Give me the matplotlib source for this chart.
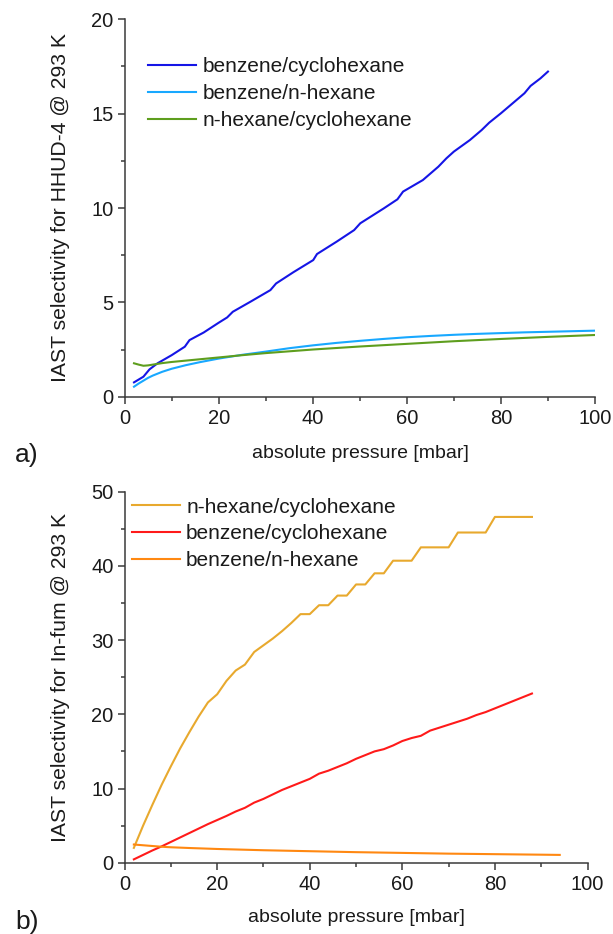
import matplotlib
matplotlib.use("Agg")
import matplotlib.pyplot as plt
from matplotlib.ticker import MultipleLocator

plt.rcParams['font.family'] = ['Liberation Sans', 'DejaVu Sans']

# ---------------- Panel a) HHUD-4 ----------------
a_bc_x = [2, 4, 5.3, 7, 10, 12.8, 13.8, 16.8, 20, 21.8, 23, 26.8, 31, 32.2, 35.9, 40.1, 40.9,
          45.1, 48.8, 50.1, 55.1, 58, 59.2, 63.4, 66.7, 68.4, 70, 73.4, 75.9, 77.5, 80, 82.5,
          85, 86.3, 88.4, 90]
a_bc_y = [0.76, 1.06, 1.45, 1.77, 2.2, 2.65, 3.0, 3.4, 3.92, 4.2, 4.5, 5.04, 5.65, 6.0, 6.6, 7.24, 7.56,
          8.22, 8.83, 9.19, 9.98, 10.46, 10.87, 11.48, 12.19, 12.63, 12.99, 13.6, 14.13, 14.52, 15.02, 15.55,
          16.08, 16.47, 16.87, 17.23]

a_bn_x = [2, 3, 4, 5, 6, 8, 10, 13, 16, 20, 25, 30, 35, 40, 45, 50, 55, 60, 65, 70, 75, 80, 85, 90, 95, 100]
a_bn_y = [0.53, 0.7, 0.85, 1.0, 1.12, 1.32, 1.48, 1.67, 1.83, 2.02, 2.22, 2.39, 2.57, 2.72, 2.85, 2.96,
          3.06, 3.15, 3.22, 3.28, 3.33, 3.37, 3.41, 3.44, 3.47, 3.5]

a_nc_x = [2, 3, 4, 5, 6, 8, 10, 15, 20, 25, 30, 40, 50, 60, 70, 80, 90, 100]
a_nc_y = [1.77, 1.70, 1.64, 1.66, 1.70, 1.78, 1.84, 1.96, 2.08, 2.2, 2.31, 2.5, 2.66, 2.8, 2.94, 3.06, 3.17, 3.27]

# ---------------- Panel b) In-fum ----------------
b_x = [2, 4, 6, 8, 10, 12, 14, 16, 18, 20, 22, 24, 26, 28, 30, 32, 34, 36, 38, 40, 42, 44,
       46, 48, 50, 52, 54, 56, 58, 60, 62, 64, 66, 68, 70, 72, 74, 76, 78, 80, 82, 84, 86, 88]
b_nc_y = [2.0, 5.0, 7.8, 10.5, 13.0, 15.4, 17.6, 19.7, 21.6, 22.7, 24.5, 25.9, 26.7, 28.4, 29.3,
          30.2, 31.2, 32.3, 33.5, 33.5, 34.7, 34.7, 36.0, 36.0, 37.5, 37.5, 39.0, 39.0, 40.7, 40.7,
          40.7, 42.5, 42.5, 42.5, 42.5, 44.5, 44.5, 44.5, 44.5, 46.6, 46.6, 46.6, 46.6, 46.6]
b_bc_y = [0.45, 1.05, 1.65, 2.2, 2.8, 3.4, 4.0, 4.6, 5.2, 5.75, 6.3, 6.9, 7.4, 8.1, 8.6, 9.2, 9.8,
          10.3, 10.8, 11.3, 12.0, 12.4, 12.9, 13.4, 14.0, 14.5, 15.0, 15.3, 15.8, 16.4, 16.8, 17.1,
          17.8, 18.2, 18.6, 19.0, 19.4, 19.9, 20.3, 20.8, 21.3, 21.8, 22.3, 22.8]
b_bn_x = [2, 4, 6, 8, 10, 14, 20, 30, 40, 50, 60, 70, 80, 90, 94]
b_bn_y = [2.45, 2.35, 2.25, 2.15, 2.08, 1.98, 1.85, 1.68, 1.55, 1.42, 1.32, 1.22, 1.15, 1.08, 1.05]

W, H = 613, 934
fig = plt.figure(figsize=(W / 100, H / 100), dpi=100)

def frac_box(l, t, r, b):
    return [l / W, 1 - b / H, (r - l) / W, (b - t) / H]

axA = fig.add_axes(frac_box(124.6, 19.3, 595, 396.7))
axB = fig.add_axes(frac_box(124.6, 491.7, 587.5, 862.7))

spine_c = '#3a3a3a'
text_c = '#1a1a1a'

def style(ax, ymax, ymaj, ymin):
    ax.set_xlim(0, 100)
    ax.set_ylim(0, ymax)
    for s in ['top', 'right']:
        ax.spines[s].set_visible(False)
    for s in ['left', 'bottom']:
        ax.spines[s].set_color(spine_c)
        ax.spines[s].set_linewidth(1.1)
    ax.xaxis.set_major_locator(MultipleLocator(20))
    ax.xaxis.set_minor_locator(MultipleLocator(10))
    ax.yaxis.set_major_locator(MultipleLocator(ymaj))
    ax.yaxis.set_minor_locator(MultipleLocator(ymin))
    ax.tick_params(which='major', direction='out', length=5, width=1.1, color=spine_c,
                   labelsize=14.5, labelcolor=text_c)
    ax.tick_params(which='minor', direction='out', length=3, width=1.1, color=spine_c)
    ax.tick_params(axis='x', which='major', pad=3.5)
    ax.tick_params(axis='y', which='major', pad=3)
    ax.patch.set_alpha(0)

style(axA, 20, 5, 2.5)
style(axB, 50, 10, 5)

lw = 1.5
axA.plot(a_bc_x, a_bc_y, color='#1515E6', lw=lw, label='benzene/cyclohexane')
axA.plot(a_bn_x, a_bn_y, color='#18A8FF', lw=lw, label='benzene/n-hexane')
axA.plot(a_nc_x, a_nc_y, color='#5E9E1E', lw=lw, label='n-hexane/cyclohexane')

axB.plot(b_x, b_nc_y, color='#E8A92E', lw=lw, label='n-hexane/cyclohexane')
axB.plot(b_x, b_bc_y, color='#FF1A1A', lw=lw, label='benzene/cyclohexane')
axB.plot(b_bn_x, b_bn_y, color='#FF8811', lw=lw, label='benzene/n-hexane')

for ax, anchor in [(axA, (0.05, 0.899)), (axB, (0.016, 0.984))]:
    leg = ax.legend(loc='upper left', bbox_to_anchor=anchor, frameon=False, fontsize=15,
                    handlelength=2.3, handletextpad=0.3, labelspacing=0.37,
                    borderpad=0, borderaxespad=0)
    for t in leg.get_texts():
        t.set_color(text_c)

# axis labels
fig.text(61 / W, 1 - 208 / H, 'IAST selectivity for HHUD-4 @ 293 K', rotation=90,
         ha='center', va='center', fontsize=15.2, color=text_c)
fig.text(61 / W, 1 - 677 / H, 'IAST selectivity for In-fum @ 293 K', rotation=90,
         ha='center', va='center', fontsize=15.2, color=text_c)
fig.text(360 / W, 1 - 453 / H, 'absolute pressure [mbar]', ha='center', va='center',
         fontsize=14, color=text_c)
fig.text(356 / W, 1 - 918 / H, 'absolute pressure [mbar]', ha='center', va='center',
         fontsize=14, color=text_c)
fig.text(27 / W, 1 - 455 / H, 'a)', ha='center', va='center', fontsize=19, color=text_c)
fig.text(27 / W, 1 - 922 / H, 'b)', ha='center', va='center', fontsize=19, color=text_c)

fig.savefig('out.png', dpi=100, facecolor='white')
